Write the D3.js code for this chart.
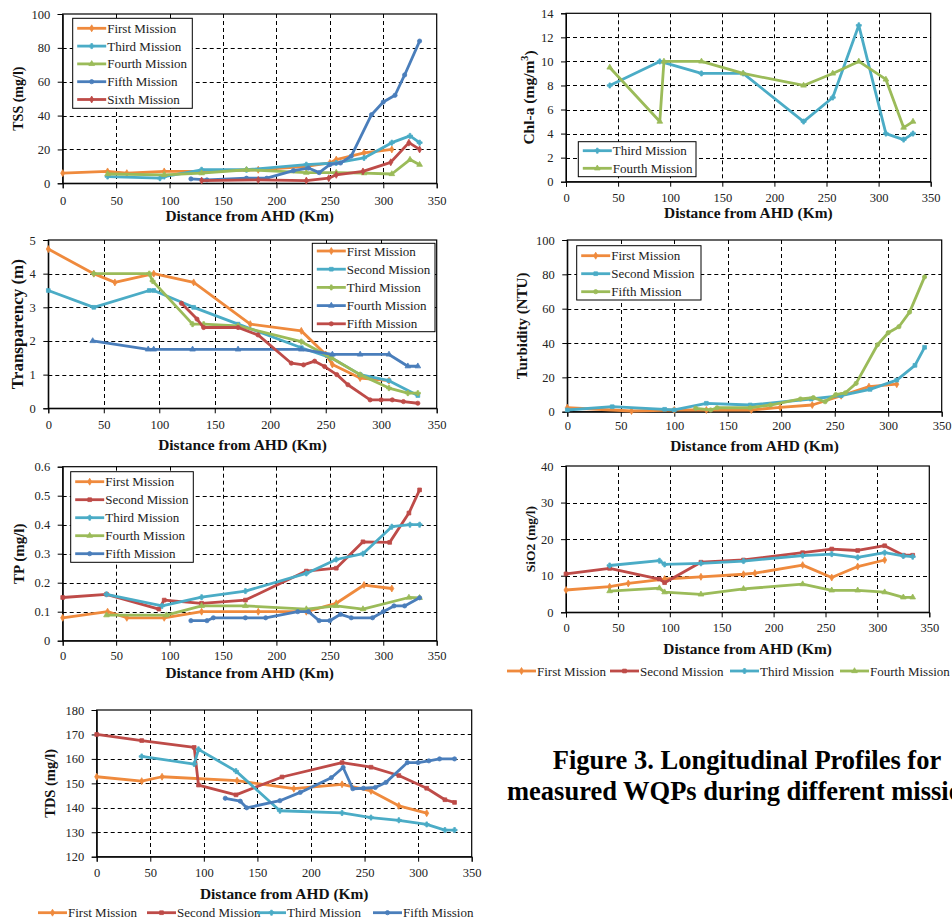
<!DOCTYPE html>
<html>
<head>
<meta charset="utf-8">
<script src="https://cdn.jsdelivr.net/npm/d3@7"></script>
<style>
  body { margin: 0; background: #fff; }
  svg { display: block; }
</style>
</head>
<body>
<div id="chart"></div>
<script>

// TSS (mg/l)
const tssFirst = [[0,6],[42,7],[60,6],[95,7],[130,7],[183,8],[228,10],[250,12],[256,14],[282,18],[308,20]];
const tssThird = [[42,4],[91,3],[95,4],[130,8],[172,8],[228,11],[256,12],[282,15],[308,24],[325,28],[334,24]];
const tssFourth = [[42,5.5],[95,5],[130,6],[172,8],[228,6.3],[256,6.3],[282,6],[308,5.5],[325,14],[334,11]];
const tssFifth = [[120,2.6],[135,2],[172,3],[191,3],[216,7.5],[230,9],[240,6.3],[250,11],[260,12],[270,16],[289,40.5],[300,48],[311,52],[320,64],[334,84]];
const tssSixth = [[130,1.6],[183,2],[228,1.6],[249,3],[256,5],[281,7],[307,12.4],[324,24],[334,20]];

// Chl-a (mg/m3)
const chlThird = [[42,8],[90,10],[130,9],[170,9],[228,5],[256,7],[281,13],[307,4],[324,3.5],[333,4]];
const chlFourth = [[42,9.5],[90,5],[94,10],[130,10],[170,9],[228,8],[256,9],[281,10],[307,8.5],[324,4.5],[333,5]];

// Transparency (m)
const trFirst = [[0,4.73],[41,4.0],[60,3.74],[95,4.0],[131,3.74],[182,2.5],[228,2.3],[250,1.6],[256,1.3],[281,0.9],[307,0.82]];
const trSecond = [[0,3.5],[41,3.0],[91,3.5],[95,3.5],[131,3.0],[171,2.5],[228,1.8],[255,1.5],[281,1.0],[307,0.82],[333,0.38]];
const trThird = [[41,4.0],[91,4.0],[94,3.78],[130,2.5],[140,2.5],[171,2.45],[228,1.98],[255,1.5],[281,1.0],[307,0.6],[324,0.45],[333,0.45]];
const trFourth = [[40,2.0],[90,1.75],[95,1.75],[130,1.75],[171,1.75],[228,1.75],[256,1.6],[281,1.6],[307,1.6],[324,1.25],[333,1.25]];
const trFifth = [[120,3.12],[134,2.65],[140,2.4],[171,2.4],[189,2.18],[219,1.34],[230,1.29],[240,1.4],[249,1.24],[260,1.0],[270,0.7],[290,0.25],[300,0.25],[310,0.25],[320,0.2],[333,0.15]];

// Turbidity (NTU)
const tuFirst = [[0,2.3],[60,0.4],[100,1],[130,1],[172,1],[199,2.5],[229,3.9],[256,9.3],[282,14.6],[308,16]];
const tuSecond = [[0,1],[42,2.9],[91,1.4],[100,1],[130,4.9],[171,3.9],[228,7.4],[256,9.3],[283,13],[308,18.4],[325,27],[334,37.5]];
const tuFifth = [[120,2],[134,1],[140,2.3],[171,2.3],[190,3.9],[218,7.4],[230,8.2],[241,5.8],[251,10],[260,11],[270,16.5],[290,39],[300,46],[310,49.5],[320,58],[334,78.5]];

// TP (mg/l)
const tpFirst = [[0,0.079],[42,0.1],[60,0.079],[95,0.079],[130,0.1],[183,0.1],[228,0.1],[256,0.129],[282,0.192],[308,0.18]];
const tpSecond = [[0,0.149],[41,0.16],[90,0.109],[95,0.14],[130,0.129],[171,0.14],[228,0.24],[256,0.25],[281,0.341],[306,0.339],[324,0.44],[334,0.52]];
const tpThird = [[41,0.16],[93,0.12],[130,0.15],[171,0.171],[228,0.232],[256,0.28],[281,0.3],[308,0.393],[325,0.4],[334,0.4]];
const tpFourth = [[41,0.088],[97,0.088],[130,0.12],[171,0.12],[228,0.109],[256,0.12],[281,0.109],[324,0.149],[334,0.148]];
const tpFifth = [[120,0.069],[135,0.069],[141,0.079],[171,0.079],[190,0.079],[220,0.1],[230,0.1],[240,0.069],[250,0.069],[260,0.091],[270,0.079],[290,0.079],[300,0.1],[310,0.12],[320,0.12],[334,0.148]];

// SiO2 (mg/l)
const siFirst = [[0,6.1],[42,7],[60,7.9],[95,9.1],[130,9.7],[171,10.4],[182,10.7],[228,12.9],[256,9.5],[281,12.5],[307,14.3]];
const siSecond = [[0,10.5],[42,12],[90,9.1],[95,8.1],[130,13.7],[171,14.3],[228,16.3],[256,17.3],[281,16.9],[307,18.2],[325,15.6],[334,15.6]];
const siThird = [[42,12.8],[90,14.1],[95,13.1],[130,13.4],[171,14.0],[228,15.5],[256,15.9],[281,15.0],[307,16.3],[325,15.4],[334,15.2]];
const siFourth = [[42,5.8],[90,6.6],[95,5.5],[130,4.9],[171,6.4],[228,7.7],[256,6.0],[281,6.0],[307,5.5],[325,4.1],[334,4.1]];

// TDS (mg/l)
const tdsFirst = [[0,152.7],[42,150.9],[61,152.7],[131,151.1],[184,147.8],[229,149.6],[256,146.9],[282,140.8],[308,137.8]];
const tdsSecond = [[0,170],[42,167.5],[91,164.7],[95,149.3],[130,145.3],[173,152.6],[229,158.5],[256,156.6],[282,153.2],[308,148],[325,143.3],[334,142.2]];
const tdsThird = [[42,161],[91,157.9],[95,163.9],[130,155],[171,138.8],[229,137.9],[256,136],[282,134.9],[308,133.2],[325,130.9],[334,130.9]];
const tdsFifth = [[120,143.9],[134,142.7],[140,140],[171,142.9],[190,146.3],[219,152.3],[230,156.5],[239,147.8],[249,148],[260,148.3],[270,150.4],[290,158.5],[300,158.5],[310,159.2],[320,160],[334,160]];

const xTicks = [0, 50, 100, 150, 200, 250, 300, 350];
const xTitle = "Distance from AHD (Km)";
const caption = ["Figure 3. Longitudinal Profiles for", "measured WQPs during different missions"];

// colours (Office palette used in the figure)
const orange = "#EF8A3D", red = "#BE4B48", cyan = "#4BACC6", green = "#9BBB59", blue = "#4A7EBB";
const mark = {
  First: d3.symbolDiamond, Second: d3.symbolSquare, Third: d3.symbolCross,
  Fourth: d3.symbolTriangle, Fifth: d3.symbolCircle, Sixth: d3.symbolDiamond
};

const width = 952, height = 920;
const serif = "'Liberation Serif', 'Times New Roman', serif";

const svg = d3.select("#chart").append("svg")
  .attr("width", width)
  .attr("height", height)
  .attr("viewBox", [0, 0, width, height])
  .style("font-family", serif);

svg.append("rect").attr("width", width).attr("height", height).attr("fill", "#fff");

const panels = [
  { L: 62.7, R: 436.7, T: 14, B: 183.3, yDomain: [0, 100], yTicks: d3.range(0, 101, 20),
    yTitle: "TSS (mg/l)", yTitleX: 18, yTitleSize: 14, xPad: 7.5, xTitleY: 221,
    series: [["First Mission", tssFirst, orange, "First"], ["Third Mission", tssThird, cyan, "Third"],
             ["Fourth Mission", tssFourth, green, "Fourth"], ["Fifth Mission", tssFifth, blue, "Fifth"],
             ["Sixth Mission", tssSixth, red, "Sixth"]],
    legend: { type: "box", x: 72.7, y: 18.3, w: 119.6, h: 90, row0: 28.3, step: 17.8 } },
  { L: 566, R: 930.7, T: 13.3, B: 181.7, yDomain: [0, 14], yTicks: d3.range(0, 15, 2),
    yTitle: "Chl-a (mg/m", ySup: "3", yTitleX: 529, yTitleSize: 15.5, xPad: 6, xTitleY: 218,
    series: [["Third Mission", chlThird, cyan, "Third"], ["Fourth Mission", chlFourth, green, "Fourth"]],
    legend: { type: "box", x: 578.3, y: 141.7, w: 117.7, h: 35, row0: 150.7, step: 17.6 } },
  { L: 48.3, R: 436.7, T: 240, B: 408.3, yDomain: [0, 5], yTicks: d3.range(0, 6, 1),
    yTitle: "Transparency (m)", yTitleX: 17, yTitleSize: 17, xPad: 6.5, xTitleY: 449.5,
    series: [["First Mission", trFirst, orange, "First"], ["Second Mission", trSecond, cyan, "Second"],
             ["Third Mission", trThird, green, "Third"], ["Fourth Mission", trFourth, blue, "Fourth"],
             ["Fifth Mission", trFifth, red, "Fifth"]],
    legend: { type: "box", x: 312.3, y: 243.3, w: 122.7, h: 88.4, row0: 251, step: 18.2 } },
  { L: 567.3, R: 941.7, T: 240, B: 411.7, yDomain: [0, 100], yTicks: d3.range(0, 101, 20),
    yTitle: "Turbidity (NTU)", yTitleX: 521.7, yTitleSize: 15, xPad: 4, xTitleY: 451,
    series: [["First Mission", tuFirst, orange, "First"], ["Second Mission", tuSecond, cyan, "Second"],
             ["Fifth Mission", tuFifth, green, "Fifth"]],
    legend: { type: "box", x: 576.7, y: 245.7, w: 124.3, h: 54.3, row0: 255.7, step: 18 } },
  { L: 62.7, R: 436.7, T: 466.7, B: 640.7, yDomain: [0, 0.6], yTicks: d3.range(0, 7).map(i => i / 10),
    yTitle: "TP (mg/l)", yTitleX: 18.3, yTitleSize: 15, xPad: 5, xTitleY: 678,
    series: [["First Mission", tpFirst, orange, "First"], ["Second Mission", tpSecond, red, "Second"],
             ["Third Mission", tpThird, cyan, "Third"], ["Fourth Mission", tpFourth, green, "Fourth"],
             ["Fifth Mission", tpFifth, blue, "Fifth"]],
    legend: { type: "box", x: 70.7, y: 471.7, w: 122.6, h: 90.6, row0: 481.7, step: 18 } },
  { L: 566, R: 929.3, T: 466, B: 612.3, yDomain: [0, 40], yTicks: d3.range(0, 41, 10),
    yTitle: "SiO2 (mg/l)", yTitleX: 530, yTitleSize: 13.5, xPad: 5.5, xTitleY: 654,
    series: [["First Mission", siFirst, orange, "First"], ["Second Mission", siSecond, red, "Second"],
             ["Third Mission", siThird, cyan, "Third"], ["Fourth Mission", siFourth, green, "Fourth"]],
    legend: { type: "row", y: 671, xs: [507, 610, 730, 840] } },
  { L: 96.7, R: 471.7, T: 710, B: 856.7, yDomain: [120, 180], yTicks: d3.range(120, 181, 10),
    yTitle: "TDS (mg/l)", yTitleX: 50, yTitleSize: 14.5, xPad: 6.5, xTitleY: 899,
    series: [["First Mission", tdsFirst, orange, "First"], ["Second Mission", tdsSecond, red, "Second"],
             ["Third Mission", tdsThird, cyan, "Third"], ["Fifth Mission", tdsFifth, blue, "Fifth"]],
    legend: { type: "row", y: 912.7, xs: [38, 147, 257, 373] } }
];

panels.forEach(drawPanel);

// caption (second line runs past the right edge, as in the source page)
svg.append("g")
  .attr("font-size", 26.5)
  .attr("font-weight", "bold")
  .attr("text-anchor", "middle")
  .selectAll("text")
  .data(caption)
  .join("text")
  .attr("x", 747)
  .attr("y", (d, i) => 769 + i * 31)
  .text(d => d);


function drawPanel(p) {
  const x = d3.scaleLinear([0, 350], [p.L, p.R]);
  const y = d3.scaleLinear(p.yDomain, [p.B, p.T]);
  const g = svg.append("g");

  // dashed grid
  g.append("g")
    .attr("stroke", "#000")
    .attr("stroke-width", 1)
    .attr("stroke-dasharray", "4,3")
    .call(gg => gg.selectAll(".v")
      .data(xTicks.slice(1, -1))
      .join("line")
      .attr("x1", d => Math.round(x(d)) + 0.5).attr("x2", d => Math.round(x(d)) + 0.5)
      .attr("y1", p.T).attr("y2", p.B))
    .call(gg => gg.selectAll(".h")
      .data(p.yTicks.slice(1, -1))
      .join("line")
      .attr("x1", p.L).attr("x2", p.R)
      .attr("y1", d => Math.round(y(d)) + 0.5).attr("y2", d => Math.round(y(d)) + 0.5));

  // frame
  g.append("rect")
    .attr("x", p.L).attr("y", p.T)
    .attr("width", p.R - p.L).attr("height", p.B - p.T)
    .attr("fill", "none")
    .attr("stroke", "#000")
    .attr("stroke-width", 1.2);

  // axes
  const yAxis = d3.axisLeft(y).tickValues(p.yTicks).tickSize(5).tickPadding(7.5).tickFormat(d3.format("~g"));
  const xAxis = d3.axisBottom(x).tickValues(xTicks).tickSize(5).tickPadding(p.xPad);

  g.append("g")
    .attr("transform", `translate(${p.L},0)`)
    .call(yAxis)
    .call(a => a.select(".domain").attr("stroke", "#000"))
    .call(a => a.selectAll("text").attr("font-family", serif).attr("font-size", 12.5).attr("fill", "#222"));

  g.append("g")
    .attr("transform", `translate(0,${p.B})`)
    .call(xAxis)
    .call(a => a.select(".domain").attr("stroke", "#000"))
    .call(a => a.selectAll("text").attr("font-family", serif).attr("font-size", 12.5).attr("fill", "#222"));

  // axis titles
  g.append("text")
    .attr("x", (p.L + p.R) / 2)
    .attr("y", p.xTitleY)
    .attr("text-anchor", "middle")
    .attr("font-weight", "bold")
    .attr("font-size", 15.4)
    .attr("fill", "#111")
    .text(xTitle);

  const yt = g.append("text")
    .attr("transform", `translate(${p.yTitleX},${(p.T + p.B) / 2}) rotate(-90)`)
    .attr("text-anchor", "middle")
    .attr("dy", "0.35em")
    .attr("font-weight", "bold")
    .attr("font-size", p.yTitleSize)
    .attr("fill", "#111")
    .text(p.yTitle);
  if (p.ySup) {
    yt.append("tspan").attr("font-size", p.yTitleSize * 0.65).attr("dy", "-0.6em").text(p.ySup);
    yt.append("tspan").attr("dy", "0.4em").text(")");
  }

  // series
  const line = d3.line().x(d => x(d[0])).y(d => y(d[1]));
  p.series.forEach(([name, values, color, m]) => {
    g.append("path")
      .datum(values)
      .attr("fill", "none")
      .attr("stroke", color)
      .attr("stroke-width", 2.8)
      .attr("stroke-linejoin", "round")
      .attr("d", line);
    g.append("g")
      .selectAll("path")
      .data(values)
      .join("path")
      .attr("transform", d => `translate(${x(d[0])},${y(d[1])})`)
      .attr("d", d3.symbol(mark[m], 14))
      .attr("fill", color)
      .attr("stroke", color)
      .attr("stroke-width", 0.8);
  });

  drawLegend(g, p);
}

function drawLegend(g, p) {
  const lg = p.legend;
  const item = (sel, x0, yc, s) => {
    sel.append("line")
      .attr("x1", x0).attr("x2", x0 + 29)
      .attr("y1", yc).attr("y2", yc)
      .attr("stroke", s[2]).attr("stroke-width", 2.8);
    sel.append("path")
      .attr("transform", `translate(${x0 + 14.5},${yc})`)
      .attr("d", d3.symbol(mark[s[3]], 14))
      .attr("fill", s[2]).attr("stroke", s[2]).attr("stroke-width", 0.8);
    sel.append("text")
      .attr("x", x0 + 30)
      .attr("y", yc)
      .attr("dy", "0.35em")
      .attr("font-size", 13)
      .attr("fill", "#222")
      .text(s[0]);
  };

  const box = g.append("g");
  if (lg.type === "box") {
    box.append("rect")
      .attr("x", lg.x).attr("y", lg.y)
      .attr("width", lg.w).attr("height", lg.h)
      .attr("fill", "#fff")
      .attr("stroke", "#000")
      .attr("stroke-width", 1);
    p.series.forEach((s, i) => item(box, lg.x + 4.5, lg.row0 + i * lg.step, s));
  } else {
    p.series.forEach((s, i) => item(box, lg.xs[i], lg.y, s));
  }
}
</script>
</body>
</html>
